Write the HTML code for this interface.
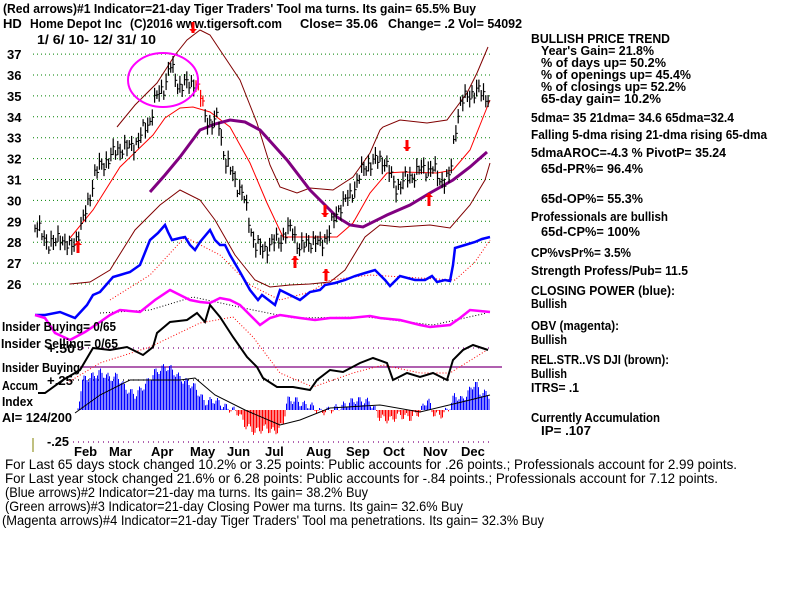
<!DOCTYPE html>
<html><head><meta charset="utf-8"><style>
html,body{margin:0;padding:0;background:#fff;width:800px;height:600px;overflow:hidden}
svg text{font-family:"Liberation Sans",Arial,sans-serif;font-weight:bold;font-size:13px;fill:#000}
.c{font-family:"Liberation Sans",sans-serif;font-weight:normal;font-size:14px}
.r{font-size:12.5px}
</style></head><body>
<svg id="s" width="800" height="600" xmlns="http://www.w3.org/2000/svg">
<text x="3" y="13" textLength="473" lengthAdjust="spacingAndGlyphs">(Red arrows)#1 Indicator=21-day Tiger Traders' Tool ma turns. Its gain= 65.5% Buy</text>
<text x="3" y="28">HD</text>
<text x="30" y="28" textLength="92" lengthAdjust="spacingAndGlyphs">Home Depot Inc</text>
<text x="130" y="28" textLength="152" lengthAdjust="spacingAndGlyphs">(C)2016 www.tigersoft.com</text>
<text x="300" y="28" textLength="78" lengthAdjust="spacingAndGlyphs">Close=  35.06</text>
<text x="388" y="28" textLength="134" lengthAdjust="spacingAndGlyphs">Change= .2 Vol= 54092</text>
<text x="37" y="44" textLength="119" lengthAdjust="spacingAndGlyphs">1/ 6/ 10- 12/ 31/ 10</text>
<g id="g"></g>
<g class="r">
<text class="r" x="531" y="43" textLength="139" lengthAdjust="spacingAndGlyphs">BULLISH PRICE TREND</text>
<text class="r" x="541" y="55" textLength="113" lengthAdjust="spacingAndGlyphs">Year's Gain= 21.8%</text>
<text class="r" x="541" y="67" textLength="125" lengthAdjust="spacingAndGlyphs">% of days up= 50.2%</text>
<text class="r" x="541" y="79" textLength="150" lengthAdjust="spacingAndGlyphs">% of openings up= 45.4%</text>
<text class="r" x="541" y="91" textLength="145" lengthAdjust="spacingAndGlyphs">% of closings up= 52.2%</text>
<text class="r" x="541" y="103" textLength="120" lengthAdjust="spacingAndGlyphs">65-day gain= 10.2%</text>
<text class="r" x="531" y="122" textLength="203" lengthAdjust="spacingAndGlyphs">5dma= 35 21dma= 34.6 65dma=32.4</text>
<text class="r" x="531" y="139" textLength="236" lengthAdjust="spacingAndGlyphs">Falling 5-dma  rising 21-dma  rising 65-dma</text>
<text class="r" x="531" y="157" textLength="195" lengthAdjust="spacingAndGlyphs">5dmaAROC=-4.3 %  PivotP= 35.24</text>
<text class="r" x="541" y="173" textLength="102" lengthAdjust="spacingAndGlyphs">65d-PR%= 96.4%</text>
<text class="r" x="541" y="203" textLength="102" lengthAdjust="spacingAndGlyphs">65d-OP%= 55.3%</text>
<text class="r" x="531" y="221" textLength="137" lengthAdjust="spacingAndGlyphs">Professionals are bullish</text>
<text class="r" x="541" y="236" textLength="99" lengthAdjust="spacingAndGlyphs">65d-CP%= 100%</text>
<text class="r" x="531" y="257" textLength="100" lengthAdjust="spacingAndGlyphs">CP%vsPr%=  3.5%</text>
<text class="r" x="531" y="275" textLength="157" lengthAdjust="spacingAndGlyphs">Strength Profess/Pub= 11.5</text>
<text class="r" x="531" y="295" textLength="144" lengthAdjust="spacingAndGlyphs">CLOSING POWER (blue):</text>
<text class="r" x="531" y="308" textLength="36" lengthAdjust="spacingAndGlyphs">Bullish</text>
<text class="r" x="531" y="330" textLength="88" lengthAdjust="spacingAndGlyphs">OBV (magenta):</text>
<text class="r" x="531" y="344" textLength="36" lengthAdjust="spacingAndGlyphs">Bullish</text>
<text class="r" x="531" y="364" textLength="138" lengthAdjust="spacingAndGlyphs">REL.STR..VS DJI (brown):</text>
<text class="r" x="531" y="378" textLength="36" lengthAdjust="spacingAndGlyphs">Bullish</text>
<text class="r" x="531" y="392" textLength="48" lengthAdjust="spacingAndGlyphs">ITRS= .1</text>
<text class="r" x="531" y="422" textLength="129" lengthAdjust="spacingAndGlyphs">Currently Accumulation</text>
<text class="r" x="541" y="435" textLength="50" lengthAdjust="spacingAndGlyphs">IP=  .107</text>
</g>
<g>
<text x="2" y="331" textLength="114" lengthAdjust="spacingAndGlyphs">Insider Buying= 0/65</text>
<text x="1" y="348" textLength="117" lengthAdjust="spacingAndGlyphs">Insider Selling= 0/65</text>
<text x="47" y="353" textLength="28" lengthAdjust="spacingAndGlyphs">+.50</text>
<text x="2" y="372" textLength="78" lengthAdjust="spacingAndGlyphs">Insider Buying</text>
<text x="2" y="390" textLength="36" lengthAdjust="spacingAndGlyphs">Accum</text>
<text x="47" y="385" textLength="26" lengthAdjust="spacingAndGlyphs">+.25</text>
<text x="2" y="406" textLength="31" lengthAdjust="spacingAndGlyphs">Index</text>
<text x="2" y="422" textLength="70" lengthAdjust="spacingAndGlyphs">AI= 124/200</text>
<text x="47" y="446" textLength="22" lengthAdjust="spacingAndGlyphs">-.25</text>
</g>
<g>
<text x="74" y="456">Feb</text><text x="109" y="456">Mar</text><text x="151" y="456">Apr</text><text x="190" y="456">May</text><text x="227" y="456">Jun</text><text x="265" y="456">Jul</text><text x="306" y="456">Aug</text><text x="346" y="456">Sep</text><text x="383" y="456">Oct</text><text x="423" y="456">Nov</text><text x="461" y="456">Dec</text>
</g>
<g>
<text class="c" x="5" y="469" textLength="732" lengthAdjust="spacingAndGlyphs">For Last 65 days stock changed  10.2% or  3.25 points:  Public accounts for  .26 points.;  Professionals account for  2.99 points.</text>
<text class="c" x="5" y="483" textLength="713" lengthAdjust="spacingAndGlyphs">For Last year stock changed  21.6% or  6.28 points:  Public accounts for -.84 points.;  Professionals account for  7.12 points.</text>
<text class="c" x="5" y="497" textLength="363" lengthAdjust="spacingAndGlyphs">(Blue arrows)#2 Indicator=21-day ma turns. Its gain= 38.2% Buy</text>
<text class="c" x="5" y="511" textLength="458" lengthAdjust="spacingAndGlyphs">(Green arrows)#3 Indicator=21-day Closing Power ma turns. Its gain= 32.6% Buy</text>
<text class="c" x="2" y="525" textLength="542" lengthAdjust="spacingAndGlyphs">(Magenta arrows)#4 Indicator=21-day Tiger Traders' Tool ma penetrations. Its gain= 32.3% Buy</text>
</g>
</svg>
<script>
var g=document.getElementById('g'),NS='http://www.w3.org/2000/svg';
function el(t,a){var e=document.createElementNS(NS,t);for(var k in a)e.setAttribute(k,a[k]);g.appendChild(e);return e;}
function pl(pts,st,w,dash){var d=pts.map(function(p){return p[0]+','+p[1]}).join(' ');var a={points:d,fill:'none',stroke:st,'stroke-width':w};if(dash)a['stroke-dasharray']=dash;el('polyline',a);}
function interp(k,x){for(var i=0;i<k.length-1;i++){if(x>=k[i][0]&&x<=k[i+1][0]){var t=(x-k[i][0])/(k[i+1][0]-k[i][0]);return k[i][1]+t*(k[i+1][1]-k[i][1]);}}return x<k[0][0]?k[0][1]:k[k.length-1][1];}
for(var p=26;p<=37;p++){var y=284-(p-26)*20.9;el('line',{x1:33,x2:490,y1:y,y2:y,stroke:'#008000','stroke-dasharray':'1,3','stroke-width':1});var t=el('text',{x:7,y:y+5});t.textContent=p;}
[[348,'#800080'],[380,'#000'],[442,'#800080']].forEach(function(l){el('line',{x1:73,x2:490,y1:l[0],y2:l[0],stroke:l[1],'stroke-dasharray':'1,4','stroke-width':1.2});});
el('line',{x1:80,x2:502,y1:367,y2:367,stroke:'#800080','stroke-width':1.3});
el('line',{x1:33,x2:33,y1:438,y2:452,stroke:'#808000','stroke-width':1});
pl([[117,127],[135,105],[157,83],[175,55],[187,40],[200,30],[210,35],[220,50],[240,80],[257,123],[270,165],[280,187],[297,193],[310,188],[333,190],[353,177],[370,153],[380,130],[383,127],[400,120],[427,123],[447,120],[467,93],[477,73],[488,47]],'#800000',1);
pl([[70,284],[90,282],[110,270],[135,230],[160,205],[180,190],[200,200],[215,220],[235,255],[255,280],[270,287],[290,285],[310,284],[330,282],[345,270],[365,237],[380,225],[400,227],[430,225],[450,228],[470,205],[485,180],[490,163]],'#800000',1);
pl([[70,238],[93,210],[120,167],[153,135],[165,118],[180,108],[193,107],[210,112],[230,127],[240,145],[250,163],[267,203],[283,237],[307,237],[337,237],[353,223],[370,193],[387,173],[403,172],[437,173],[453,170],[470,150],[480,125],[490,100]],'#ff0000',1);
pl([[150,192],[165,175],[180,157],[200,130],[215,124],[230,120],[245,122],[260,130],[287,160],[310,190],[337,217],[350,225],[363,227],[387,215],[410,205],[430,193],[453,180],[470,167],[487,152]],'#800080',3);
var pk=[[35,225],[45,240],[55,245],[60,235],[70,250],[80,230],[85,215],[90,195],[95,173],[105,162],[120,148],[130,148],[138,140],[150,120],[155,100],[165,85],[170,65],[178,85],[190,85],[195,80],[200,95],[205,115],[212,125],[218,118],[225,160],[235,180],[243,195],[250,225],[255,245],[262,250],[270,245],[285,235],[292,228],[300,250],[310,240],[320,245],[330,230],[340,205],[350,197],[360,175],[370,162],[385,160],[395,188],[405,180],[420,170],[432,168],[440,180],[450,178],[455,130],[460,105],[470,93],[480,92],[490,98]];
for(var x=35;x<=490;x+=2.3){var c=interp(pk,x)+Math.sin(x*1.7)*5+Math.sin(x*0.43)*4;var h=7+Math.abs(Math.sin(x*0.9))*10;var col=(x>196&&x<204)?'#f00':'#000';el('line',{x1:x,x2:x,y1:c-h/2,y2:c+h/2,stroke:col,'stroke-width':1.2});el('line',{x1:x,x2:x+2,y1:c,y2:c,stroke:col,'stroke-width':1});}
el('ellipse',{cx:163,cy:80,rx:35,ry:27,fill:'none',stroke:'#ff00ff','stroke-width':2});
function arr(x,y1,y2){var up=y2<y1;el('line',{x1:x,x2:x,y1:y1,y2:y2,stroke:'#f00','stroke-width':3});el('polygon',{points:(x-4)+','+(y2+(up?4:-4))+' '+(x+4)+','+(y2+(up?4:-4))+' '+x+','+y2,fill:'#f00'});}
arr(193,22,33);arr(407,140,151);arr(325,205,217);arr(78,253,241);arr(295,268,256);arr(326,281,269);arr(429,206,193);
pl([[110,300],[150,275],[185,237],[220,255],[250,285],[280,300],[310,292],[330,280],[370,275],[420,278],[455,280],[475,262],[490,240]],'#ff0000',1,'1,2');
pl([[35,315],[45,315],[60,312],[75,318],[87,305],[93,295],[100,292],[113,277],[120,275],[130,272],[140,265],[150,240],[158,233],[165,225],[168,232],[172,240],[180,238],[185,237],[190,245],[195,250],[200,242],[210,230],[215,240],[220,245],[225,245],[230,255],[240,272],[250,290],[258,300],[262,295],[275,305],[280,290],[290,295],[300,300],[310,292],[320,290],[325,285],[335,283],[345,280],[355,276],[365,273],[375,270],[385,280],[390,286],[400,276],[415,280],[425,280],[432,276],[437,282],[445,280],[450,281],[453,265],[455,248],[465,245],[475,242],[482,239],[490,237]],'#0000ff',2.5);
pl([[100,313],[150,310],[193,297],[253,310],[293,318],[367,317],[433,325],[487,313]],'#000',1,'1,2');
pl([[35,315],[45,318],[55,333],[70,340],[85,332],[100,322],[110,315],[120,310],[140,312],[155,300],[170,290],[180,295],[190,300],[200,302],[210,303],[220,298],[230,300],[240,305],[250,315],[260,325],[270,318],[280,315],[300,318],[315,320],[330,318],[350,318],[370,316],[380,318],[400,320],[420,325],[430,327],[450,325],[460,318],[470,310],[480,311],[490,312]],'#ff00ff',2.5);
pl([[67,383],[100,363],[150,347],[200,323],[233,317],[253,337],[280,373],[313,387],[353,373],[383,365],[420,373],[450,373],[487,350]],'#f00',1,'1,2');
pl([[38,393],[45,393],[63,380],[80,370],[93,348],[110,350],[127,347],[143,355],[153,347],[157,333],[170,322],[187,320],[197,313],[205,322],[210,305],[220,317],[233,337],[247,357],[257,367],[263,378],[277,387],[293,387],[310,390],[317,380],[330,370],[343,372],[360,363],[373,358],[387,363],[393,380],[407,373],[420,377],[433,373],[447,380],[453,360],[463,350],[473,345],[488,350]],'#000',2);
var ak=[[78,410],[82,380],[95,375],[100,372],[110,378],[118,376],[125,388],[135,395],[145,385],[155,372],[165,367],[170,368],[180,378],[195,387],[200,395],[205,402],[215,400],[225,407],[238,412],[245,425],[255,432],[265,428],[275,432],[283,425],[287,400],[295,400],[305,405],[310,405],[320,412],[330,410],[345,405],[355,400],[370,402],[380,418],[390,420],[400,415],[410,418],[420,412],[428,398],[432,412],[440,416],[448,410],[455,395],[462,400],[470,390],[475,382],[480,392],[490,395]];
for(var x=78;x<=490;x+=1.5){var v=interp(ak,x)+Math.sin(x*0.8)*4;var col=v<410?'#0000ff':'#ff0000';el('line',{x1:x,x2:x,y1:410,y2:v,stroke:col,'stroke-width':1});}
pl([[75,413],[100,395],[130,380],[180,380],[195,378],[215,395],[245,410],[280,425],[300,420],[330,408],[380,405],[420,412],[470,400],[490,395]],'#000',1);
</script>
</body></html>
